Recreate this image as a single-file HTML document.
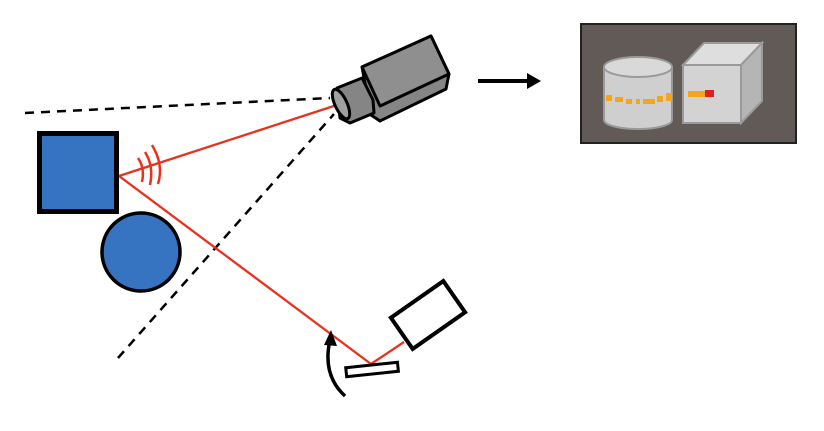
<!DOCTYPE html>
<html><head><style>
html,body{margin:0;padding:0;background:#fff;}
svg{display:block;}
</style></head><body>
<svg width="824" height="431" viewBox="0 0 824 431" xmlns="http://www.w3.org/2000/svg">
<line x1="25" y1="113" x2="330" y2="98" stroke="#000" stroke-width="2.5" stroke-dasharray="9,7"/>
<line x1="118" y1="358" x2="334" y2="114" stroke="#000" stroke-width="2.5" stroke-dasharray="9,7"/>
<line x1="119" y1="176" x2="340" y2="104" stroke="#e8321e" stroke-width="2.3"/>
<line x1="119" y1="176" x2="371" y2="364" stroke="#e8321e" stroke-width="2.3"/>
<line x1="371" y1="364" x2="404" y2="342" stroke="#e8321e" stroke-width="2.3"/>
<g fill="none" stroke="#e8321e" stroke-width="2.5">
<path d="M138 158 Q145 168 142 182"/>
<path d="M145 152 Q154 166 150 185"/>
<path d="M152 145 Q164 165 158 184"/>
</g>
<rect x="39.5" y="133.5" width="77" height="78" fill="#3673c0" stroke="#000" stroke-width="5"/>
<circle cx="141" cy="252" r="39" fill="#3673c0" stroke="#000" stroke-width="3.5"/>
<g stroke="#000" stroke-width="3" stroke-linejoin="round" fill="#858585">
<polygon points="362,67 431,36 449,74 446,89 380,121 371,115"/>
<polygon points="362,67 431,36 449,74 380,106" fill="#8f8f8f"/>
<polygon points="337,88 362,78 373,100 374,113 350,123 340,118"/>
<ellipse cx="341" cy="104" rx="6" ry="16" transform="rotate(-25 341 104)" fill="#a0a0a0"/>
</g>
<line x1="478" y1="81" x2="530" y2="81" stroke="#000" stroke-width="4"/>
<polygon points="541,81 527,73 527,89" fill="#000"/>
<rect x="581" y="24" width="215" height="119" fill="#625a56" stroke="#222" stroke-width="2"/>
<path d="M604 67 V120 A34 9 0 0 0 672 120 V67" fill="#cfcfcf" stroke="#9a9a9a" stroke-width="2"/>
<ellipse cx="638" cy="67" rx="34" ry="10" fill="#d9d9d9" stroke="#9a9a9a" stroke-width="2"/>
<g fill="#f5a51a">
<rect x="606" y="95" width="6" height="6"/><rect x="615" y="97" width="8" height="5"/><rect x="626" y="99" width="6" height="5"/><rect x="636" y="99" width="4" height="5"/><rect x="643" y="99" width="12" height="5"/><rect x="657" y="96" width="6" height="6"/><rect x="666" y="93" width="6" height="8"/>
</g>
<polygon points="683,65 704,43 762,43 741,65" fill="#dedede" stroke="#9a9a9a" stroke-width="2"/>
<polygon points="741,65 762,43 762,101 741,123" fill="#b5b5b5" stroke="#9a9a9a" stroke-width="2"/>
<rect x="683" y="65" width="58" height="58" fill="#d3d3d3" stroke="#9a9a9a" stroke-width="2"/>
<rect x="688" y="91" width="17" height="6" fill="#f5a51a"/>
<rect x="705" y="90" width="9" height="7" fill="#e02020"/>
<rect x="346" y="365" width="52" height="9" transform="rotate(-6 372 369)" fill="#fff" stroke="#000" stroke-width="3"/>
<rect x="396" y="296" width="64" height="38" transform="rotate(-35 428 315)" fill="#fff" stroke="#000" stroke-width="4"/>
<path d="M345 396 Q322 375 330 340" fill="none" stroke="#000" stroke-width="3.5"/>
<polygon points="331,330 324,345 337,346" fill="#000"/>
</svg>
</body></html>
